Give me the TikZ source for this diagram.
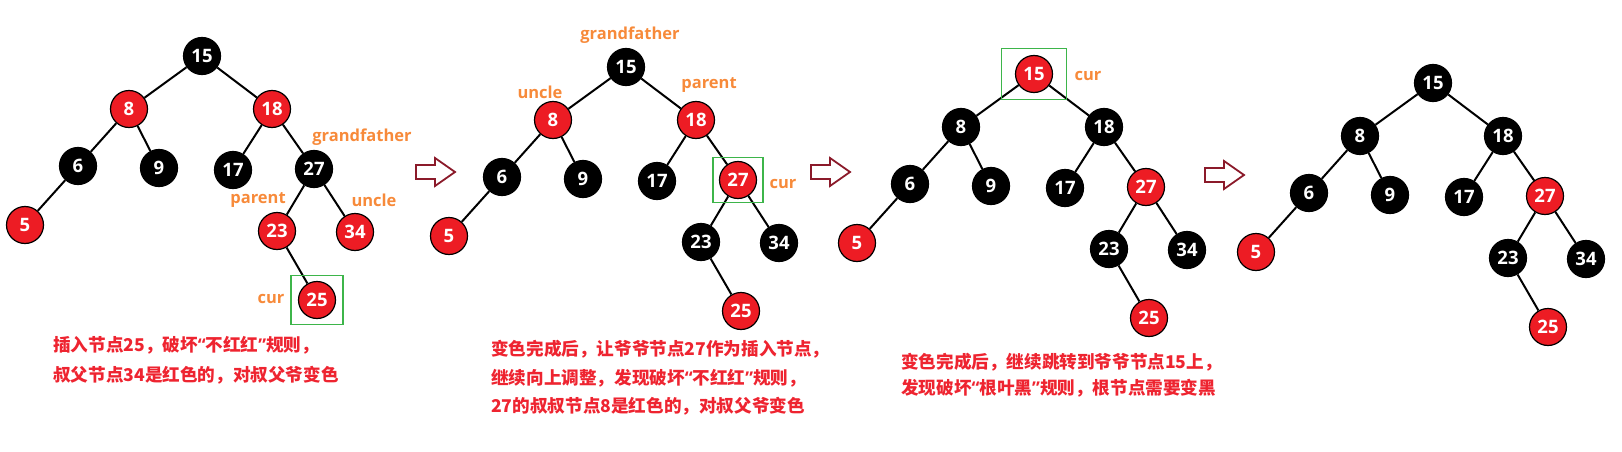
\documentclass[tikz,border=0pt]{standalone}
\usepackage{fontspec}
\setmainfont{Open Sans}
\newfontfamily\cjk{Noto Sans CJK SC}
\newfontfamily\latinq{Open Sans}
\newcommand\qopen{{\latinq “}}
\newcommand\qclose{{\latinq ”}}
\definecolor{rbred}{HTML}{ED1C24}
\definecolor{lblorange}{HTML}{F78A3A}
\definecolor{boxgreen}{HTML}{3DB54A}
\definecolor{arrred}{HTML}{8B1A2A}
\definecolor{notered}{HTML}{EE2430}

\begin{document}
\begin{tikzpicture}[x=1pt, y=-1pt,
    rbnode/.style={circle, draw=black, line width=1.2pt, minimum size=37pt, inner sep=0pt,
      text=white, font=\bfseries\fontsize{18.5}{18.5}\selectfont},
    rnode/.style={rbnode, fill=rbred},
    bnode/.style={rbnode, fill=black},
    link/.style={draw=black, line width=2pt},
    lbl/.style={text=lblorange, inner sep=0pt, font=\bfseries\fontsize{16.5}{16.5}\selectfont},
    curbox/.style={draw=boxgreen, line width=1.4pt, inner sep=0pt},
    note/.style={anchor=west, align=left, inner sep=0pt, text=notered},
    hollow/.style={draw=arrred, line width=1.8pt, fill=white, line join=miter}
  ]
  \useasboundingbox (0,0) rectangle (1622,452);

  % Baum 1: nach dem Einfuegen von 25
  \begin{scope}[shift={(202,56)}]
    \node[bnode] (a15) at (0,0) {15};
    \node[rnode] (a8) at (-73,53) {8};
    \node[rnode] (a18) at (70,53) {18};
    \node[bnode] (a6) at (-124,110) {6};
    \node[bnode] (a9) at (-43,112) {9};
    \node[bnode] (a17) at (31,114) {17};
    \node[bnode] (a27) at (112,113) {27};
    \node[rnode] (a5) at (-177,169) {5};
    \node[rnode] (a23) at (75,175) {23};
    \node[rnode] (a34) at (153,176) {34};
    \node[rnode] (a25) at (115,244) {25};
  \end{scope}

  % Baum 2
  \begin{scope}[shift={(626,67)}]
    \node[bnode] (b15) at (0,0) {15};
    \node[rnode] (b8) at (-73,53) {8};
    \node[rnode] (b18) at (70,53) {18};
    \node[bnode] (b6) at (-124,110) {6};
    \node[bnode] (b9) at (-43,112) {9};
    \node[bnode] (b17) at (31,114) {17};
    \node[rnode] (b27) at (112,113) {27};
    \node[rnode] (b5) at (-177,169) {5};
    \node[bnode] (b23) at (75,175) {23};
    \node[bnode] (b34) at (153,176) {34};
    \node[rnode] (b25) at (115,244) {25};
  \end{scope}

  % Baum 3
  \begin{scope}[shift={(1034,74)}]
    \node[rnode] (c15) at (0,0) {15};
    \node[bnode] (c8) at (-73,53) {8};
    \node[bnode] (c18) at (70,53) {18};
    \node[bnode] (c6) at (-124,110) {6};
    \node[bnode] (c9) at (-43,112) {9};
    \node[bnode] (c17) at (31,114) {17};
    \node[rnode] (c27) at (112,113) {27};
    \node[rnode] (c5) at (-177,169) {5};
    \node[bnode] (c23) at (75,175) {23};
    \node[bnode] (c34) at (153,176) {34};
    \node[rnode] (c25) at (115,244) {25};
  \end{scope}

  % Baum 4: Ergebnis
  \begin{scope}[shift={(1433,83)}]
    \node[bnode] (d15) at (0,0) {15};
    \node[bnode] (d8) at (-73,53) {8};
    \node[bnode] (d18) at (70,53) {18};
    \node[bnode] (d6) at (-124,110) {6};
    \node[bnode] (d9) at (-43,112) {9};
    \node[bnode] (d17) at (31,114) {17};
    \node[rnode] (d27) at (112,113) {27};
    \node[rnode] (d5) at (-177,169) {5};
    \node[bnode] (d23) at (75,175) {23};
    \node[bnode] (d34) at (153,176) {34};
    \node[rnode] (d25) at (115,244) {25};
  \end{scope}

  \foreach \t in {a,b,c,d}
    \foreach \p/\c in {15/8, 15/18, 8/6, 8/9, 18/17, 18/27, 6/5, 27/23, 27/34, 23/25}
      \draw[link] (\t\p) -- (\t\c);

  % Markierungen
  \node[curbox, minimum width=52pt, minimum height=49pt] (abox) at (a25) {};
  \node[curbox, minimum width=50pt, minimum height=45pt] (bbox) at (b27) {};
  \node[curbox, minimum width=65pt, minimum height=51pt] (cbox) at (c15) {};

  \node[lbl] (a-gf) at (362,137) {grandfather};
  \node[lbl] (a-par) at (258,200) {parent};
  \node[lbl] (a-unc) at (374,200) {uncle};
  \node[lbl] (a-cur) at (271,299) {cur};
  \node[lbl] (b-gf) at (630,35) {grandfather};
  \node[lbl] (b-unc) at (540,92) {uncle};
  \node[lbl] (b-par) at (709,85) {parent};
  \node[lbl] (b-cur) at (783,184) {cur};
  \node[lbl] (c-cur) at (1088,76) {cur};

  % Pfeile
  \foreach \ax/\ay in {416/172, 811/172, 1205/175}
    \draw[hollow] (\ax,\ay-7) -- ++(19,0) -- ++(0,-7) -- ++(20,14) -- ++(-20,14)
      -- ++(0,-7) -- ++(-19,0) -- cycle;

  % Texte
  \node[note, font=\cjk\bfseries\fontsize{17.6}{30}\selectfont] (anote) at (53,360)
    {插入节点25，破坏\qopen 不红红\qclose 规则，\\叔父节点34是红色的，对叔父爷变色};
  \node[note, font=\cjk\bfseries\fontsize{17.6}{28.5}\selectfont] (bnote) at (491,378)
    {变色完成后，让爷爷节点27作为插入节点，\\继续向上调整，发现破坏\qopen 不红红\qclose 规则，\\27的叔叔节点8是红色的，对叔父爷变色};
  \node[note, font=\cjk\bfseries\fontsize{17.6}{26}\selectfont] (cnote) at (901,375)
    {变色完成后，继续跳转到爷爷节点15上，\\发现破坏\qopen 根叶黑\qclose 规则，根节点需要变黑};
\end{tikzpicture}
\end{document}
